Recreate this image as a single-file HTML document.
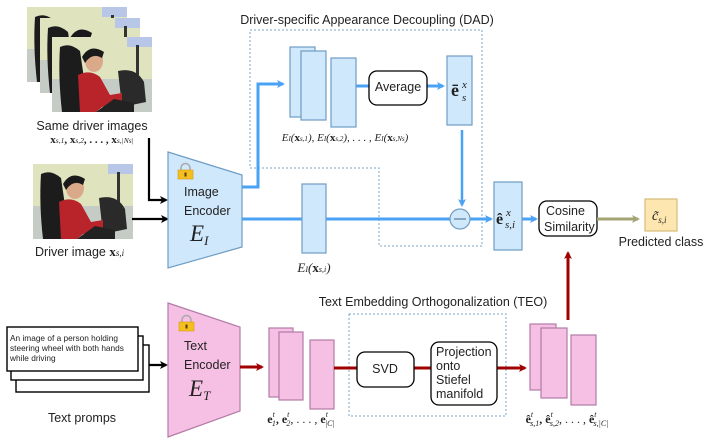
<!DOCTYPE html>
<html><head><meta charset="utf-8"><style>
html,body{margin:0;padding:0;background:#fff;width:713px;height:446px;overflow:hidden}
text{font-family:"Liberation Sans",sans-serif;fill:#222}
.m{font-family:"Liberation Serif",serif;font-style:italic}
</style></head><body>
<svg width="713" height="446" viewBox="0 0 713 446" xmlns="http://www.w3.org/2000/svg">
<defs>
<g id="photo">
<rect width="100" height="75" fill="#dfe4bf"/>
<rect y="42" width="100" height="33" fill="#c5ccc6"/>
<rect x="75" y="0" width="25" height="10" fill="#b8c6e8"/>
<rect x="84" y="8" width="3" height="40" fill="#333"/>
<path d="M8 10 Q18 5 28 14 L34 55 L40 75 L10 75 Q6 40 8 10Z" fill="#1c1c1c"/>
<path d="M66 34 Q84 30 92 45 L94 65 L70 70Z" fill="#2a2a2a"/>
<ellipse cx="42" cy="24" rx="9" ry="11" fill="#d9a98a"/>
<path d="M30 20 Q38 6 52 15 L50 21 Q40 15 33 26Z" fill="#1a1a1a"/>
<path d="M26 38 Q38 32 48 40 L58 58 L70 56 L70 64 L50 70 L44 75 L28 75Z" fill="#b8242a"/>
<path d="M44 75 L62 62 L82 66 L82 75Z" fill="#222"/>
</g>
<marker id="ab" markerWidth="8" markerHeight="8" refX="6" refY="4" orient="auto" markerUnits="userSpaceOnUse"><path d="M0,0 L8,4 L0,8 L2,4Z" fill="#4aa2f5"/></marker>
<marker id="ak" markerWidth="8" markerHeight="8" refX="6" refY="4" orient="auto" markerUnits="userSpaceOnUse"><path d="M0,0 L8,4 L0,8 L2,4Z" fill="#000"/></marker>
<marker id="ar" markerWidth="8" markerHeight="8" refX="6" refY="4" orient="auto" markerUnits="userSpaceOnUse"><path d="M0,0 L8,4 L0,8 L2,4Z" fill="#a00000"/></marker>
<marker id="ao" markerWidth="8" markerHeight="8" refX="6" refY="4" orient="auto" markerUnits="userSpaceOnUse"><path d="M0,0 L8,4 L0,8 L2,4Z" fill="#a4a474"/></marker>
<g id="lock"><path d="M3 6 V4 A4.5 4.5 0 0 1 12 4 V6" fill="none" stroke="#aaa" stroke-width="1.5"/><rect x="0" y="6" width="15" height="9" fill="#f4c020" stroke="#d99a10" stroke-width="0.6"/><rect x="6.5" y="8.5" width="2" height="4" fill="#5a3a10"/></g>
</defs>

<use href="#photo" x="27" y="7"/>
<use href="#photo" x="40" y="18"/>
<use href="#photo" x="52" y="37"/>
<use href="#photo" x="33" y="164"/>
<text x="92" y="130" font-size="12.5" text-anchor="middle">Same driver images</text>
<text x="92" y="143" font-size="11" text-anchor="middle" style="font-family:'Liberation Serif',serif;font-weight:bold">x<tspan font-size="7.5" font-weight="normal" font-style="italic">s,1</tspan>, x<tspan font-size="7.5" font-weight="normal" font-style="italic">s,2</tspan>, . . . , x<tspan font-size="7.5" font-weight="normal" font-style="italic">s,|Ns|</tspan></text>
<text x="35" y="256" font-size="12.5">Driver image <tspan style="font-family:'Liberation Serif',serif;font-weight:bold" font-size="13">x</tspan><tspan class="m" font-size="9">s,i</tspan></text>

<path d="M149 138 V200 H166" fill="none" stroke="#000" stroke-width="2.2" marker-end="url(#ak)"/>
<path d="M132 219 H167" fill="none" stroke="#000" stroke-width="2.2" marker-end="url(#ak)"/>

<path d="M168 152 L242 175 L242 247 L168 268Z" fill="#cfe8fb" stroke="#6f9dc4" stroke-width="1.2"/>
<use href="#lock" x="178" y="164"/>
<text x="184" y="196" font-size="12.5">Image</text>
<text x="184" y="215" font-size="12.5">Encoder</text>
<text x="190" y="241" font-size="23" class="m">E<tspan font-size="13" dy="4">I</tspan></text>

<path d="M250 30 H482 V246 H379 V168 H250Z" fill="none" stroke="#7aa6cc" stroke-width="1" stroke-dasharray="2,2"/>
<text x="367" y="24" font-size="12.5" text-anchor="middle">Driver-specific Appearance Decoupling (DAD)</text>

<path d="M242 187 H258 V84 H283" fill="none" stroke="#4aa2f5" stroke-width="3" marker-end="url(#ab)"/>
<path d="M242 219 H450" fill="none" stroke="#4aa2f5" stroke-width="3"/>
<path d="M470 219 H491" fill="none" stroke="#4aa2f5" stroke-width="3" marker-end="url(#ab)"/>
<path d="M356 86 H369" stroke="#4aa2f5" stroke-width="3"/>
<path d="M427 86 H443" stroke="#4aa2f5" stroke-width="3" marker-end="url(#ab)"/>
<path d="M462 130 V205" stroke="#4aa2f5" stroke-width="2.5" marker-end="url(#ab)"/>
<path d="M522 219 H536" stroke="#4aa2f5" stroke-width="3" marker-end="url(#ab)"/>

<g fill="#cfe8fb" stroke="#6f9dc4" stroke-width="1.2">
<rect x="290" y="47" width="25" height="70"/>
<rect x="301" y="51" width="25" height="69"/>
<rect x="331" y="58" width="25" height="69"/>
<rect x="447" y="56" width="25" height="69"/>
<rect x="302" y="184" width="24" height="69"/>
<rect x="494" y="182" width="28" height="68"/>
<circle cx="460" cy="219" r="10"/>
</g>
<path d="M454 219 H466" stroke="#446688" stroke-width="1"/>
<rect x="369" y="71" width="58" height="34" rx="8" fill="#fff" stroke="#000" stroke-width="1.3"/>
<text x="398" y="91" font-size="12.5" text-anchor="middle">Average</text>
<text x="451" y="96" font-size="18" style="font-family:'Liberation Serif',serif;font-weight:bold">ē</text>
<text x="462" y="88" font-size="11" class="m">x</text>
<text x="462" y="101" font-size="11" class="m">s</text>
<text x="345" y="141" font-size="11" text-anchor="middle" class="m">E<tspan font-size="7">I</tspan>(<tspan font-weight="bold" font-style="normal">x</tspan><tspan font-size="7">s,1</tspan>), E<tspan font-size="7">I</tspan>(<tspan font-weight="bold" font-style="normal">x</tspan><tspan font-size="7">s,2</tspan>), . . . , E<tspan font-size="7">I</tspan>(<tspan font-weight="bold" font-style="normal">x</tspan><tspan font-size="7">s,Ns</tspan>)</text>
<text x="314" y="272" font-size="13" text-anchor="middle" class="m">E<tspan font-size="8">I</tspan>(<tspan font-weight="bold" font-style="normal">x</tspan><tspan font-size="8">s,i</tspan>)</text>
<text x="496" y="224" font-size="16" style="font-family:'Liberation Serif',serif;font-weight:bold">ê</text>
<text x="506" y="216" font-size="11" class="m">x</text>
<text x="505" y="228" font-size="11" class="m">s,i</text>

<rect x="539" y="201" width="58" height="35" rx="8" fill="#fff" stroke="#000" stroke-width="1.3"/>
<text x="546" y="215" font-size="12.5">Cosine</text>
<text x="544" y="231" font-size="12.5">Similarity</text>
<path d="M597 219 H638" stroke="#a4a474" stroke-width="3" marker-end="url(#ao)"/>
<rect x="645" y="199" width="32" height="32" fill="#fde6b0" stroke="#d6bc7a" stroke-width="1.2"/>
<text x="652" y="220" font-size="14" class="m">c̃<tspan font-size="9" dy="3">s,i</tspan></text>
<text x="661" y="246" font-size="12.5" text-anchor="middle">Predicted class</text>
<path d="M568 320 V253" stroke="#a00000" stroke-width="3" marker-end="url(#ar)"/>

<rect x="16" y="345" width="133" height="47" fill="#fff" stroke="#000" stroke-width="1.4"/>
<rect x="11" y="336" width="132" height="44" fill="#fff" stroke="#000" stroke-width="1.4"/>
<rect x="7" y="327" width="131" height="44" fill="#fff" stroke="#000" stroke-width="1.4"/>
<text x="10" y="341" font-size="8.3">An image of a person holding</text>
<text x="10" y="351" font-size="8.3">steering wheel with both hands</text>
<text x="10" y="361" font-size="8.3">while driving</text>
<path d="M149 365 H166" stroke="#000" stroke-width="2.2" marker-end="url(#ak)"/>
<text x="82" y="422" font-size="12.5" text-anchor="middle">Text promps</text>

<path d="M168 303 L240 327 L240 411 L168 437Z" fill="#f6c0e4" stroke="#b27ba7" stroke-width="1.2"/>
<use href="#lock" x="179" y="316"/>
<text x="184" y="350" font-size="12.5">Text</text>
<text x="184" y="369" font-size="12.5">Encoder</text>
<text x="189" y="396" font-size="23" class="m">E<tspan font-size="13" dy="4">T</tspan></text>
<path d="M240 367 H262" stroke="#a00000" stroke-width="3" marker-end="url(#ar)"/>

<g fill="#f6c0e4" stroke="#b27ba7" stroke-width="1.2">
<rect x="269" y="328" width="24" height="69"/>
<rect x="279" y="332" width="24" height="68"/>
<rect x="310" y="340" width="24" height="69"/>
<rect x="530" y="324" width="26" height="66"/>
<rect x="541" y="328" width="26" height="70"/>
<rect x="571" y="335" width="25" height="70"/>
</g>
<text x="301" y="423" font-size="12" text-anchor="middle" style="font-family:'Liberation Serif',serif;font-weight:bold">e<tspan font-size="8" dy="-6" font-style="italic" font-weight="normal">t</tspan><tspan font-size="8" dx="-3" dy="9" font-style="italic" font-weight="normal">1</tspan><tspan dy="-3">, e</tspan><tspan font-size="8" dy="-6" font-style="italic" font-weight="normal">t</tspan><tspan font-size="8" dx="-3" dy="9" font-style="italic" font-weight="normal">2</tspan><tspan dy="-3" font-weight="normal">, . . . , </tspan><tspan>e</tspan><tspan font-size="8" dy="-6" font-style="italic" font-weight="normal">t</tspan><tspan font-size="8" dx="-3" dy="9" font-style="italic" font-weight="normal">|C|</tspan></text>
<text x="567" y="423" font-size="12" text-anchor="middle" style="font-family:'Liberation Serif',serif;font-weight:bold">ê<tspan font-size="8" dy="-6" font-style="italic" font-weight="normal">t</tspan><tspan font-size="8" dx="-3" dy="9" font-style="italic" font-weight="normal">s,1</tspan><tspan dy="-3">, ê</tspan><tspan font-size="8" dy="-6" font-style="italic" font-weight="normal">t</tspan><tspan font-size="8" dx="-3" dy="9" font-style="italic" font-weight="normal">s,2</tspan><tspan dy="-3" font-weight="normal">, . . . , </tspan><tspan>ê</tspan><tspan font-size="8" dy="-6" font-style="italic" font-weight="normal">t</tspan><tspan font-size="8" dx="-3" dy="9" font-style="italic" font-weight="normal">s,|C|</tspan></text>

<rect x="349" y="314" width="157" height="102" fill="none" stroke="#7aa6cc" stroke-width="1" stroke-dasharray="2,2"/>
<text x="433" y="306" font-size="12.5" text-anchor="middle">Text Embedding Orthogonalization (TEO)</text>
<path d="M334 368 H357 M414 368 H431" stroke="#a00000" stroke-width="3"/>
<path d="M497 368 H525" stroke="#a00000" stroke-width="3" marker-end="url(#ar)"/>
<rect x="357" y="352" width="57" height="35" rx="8" fill="#fff" stroke="#000" stroke-width="1.3"/>
<text x="385" y="373" font-size="12.5" text-anchor="middle">SVD</text>
<rect x="431" y="342" width="66" height="63" rx="8" fill="#fff" stroke="#000" stroke-width="1.3"/>
<text x="436" y="356" font-size="12.5">Projection</text>
<text x="436" y="370" font-size="12.5">onto</text>
<text x="436" y="384" font-size="12.5">Stiefel</text>
<text x="436" y="398" font-size="12.5">manifold</text>
</svg>
</body></html>
